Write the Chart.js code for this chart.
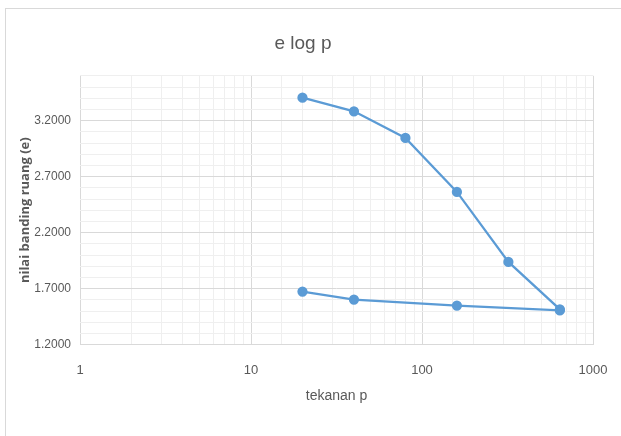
<!DOCTYPE html>
<html>
<head>
<meta charset="utf-8">
<script src="https://cdn.jsdelivr.net/npm/chart.js@4"></script>
<style>
html,body{margin:0;padding:0;background:#fff;overflow:hidden}
#frame{position:absolute;left:5px;top:8px;width:700px;height:500px;border:1px solid #d9d9d9}
#wrap{position:absolute;left:0;top:0;width:621px;height:436px}
</style>
</head>
<body>
<div id="frame"></div>
<div id="wrap"><canvas id="chart" width="621" height="436"></canvas></div>
<script>
// tekanan p and nilai banding ruang e, loading then unloading
const pressure=[20,40,80,160,320,640,640,160,40,20]
const voidRatio=[3.405,3.283,3.045,2.563,1.938,1.515,1.505,1.548,1.602,1.673]
const xRange=[1,1000]
const yRange=[1.2,3.6]

const font="'Liberation Sans',sans-serif"
const grey="#595959"

const points=pressure.map((p,i)=>({x:p,y:voidRatio[i]}))

new Chart(document.getElementById("chart"),{
type:"scatter",
data:{
datasets:[{
data:points,
showLine:true,
borderColor:"#5b9bd5",
backgroundColor:"#5b9bd5",
borderWidth:2.25,
pointRadius:4,
pointHoverRadius:4,
tension:0
}]
},
options:{
responsive:false,
animation:false,
layout:{padding:{left:13,right:28,top:0,bottom:31}},
plugins:{
legend:{display:false},
tooltip:{enabled:false},
title:{
display:true,
text:"e log p",
color:grey,
font:{family:font,size:19,weight:"normal"},
padding:{top:32,bottom:21}
}
},
scales:{
x:{
type:"logarithmic",
min:xRange[0],
max:xRange[1],
border:{color:"#d9d9d9"},
grid:{
color:(c)=>Number.isInteger(Math.log10(c.tick.value))?"#d9d9d9":"#efefef",
tickLength:0
},
ticks:{
autoSkip:false,
maxRotation:0,
color:grey,
font:{family:font,size:13},
padding:18,
callback:(v)=>Number.isInteger(Math.log10(v))?String(v):""
},
title:{display:true,text:"tekanan p",color:grey,font:{family:font,size:14},padding:{top:-8,bottom:0}},
afterFit:(s)=>{s.paddingRight=0;s.paddingLeft=0}
},
y:{
min:yRange[0],
max:yRange[1],
border:{display:false},
grid:{
color:(c)=>c.index%5===0?"#d9d9d9":"#efefef",
tickLength:0
},
ticks:{
stepSize:0.1,
autoSkip:false,
color:grey,
font:{family:font,size:12},
padding:9,
callback:(v,i)=>i%5===0?v.toFixed(4):""
},
title:{display:true,text:"nilai banding ruang (e)",color:grey,font:{family:"'Open Sans',sans-serif",size:13,weight:"bold"},padding:{bottom:2}},
afterFit:(s)=>{s.width=67}
}
}
}
})
</script>
</body>
</html>
